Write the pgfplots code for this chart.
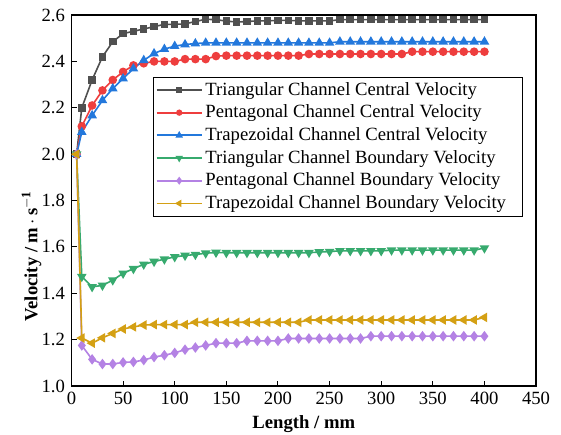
\documentclass[border=0pt]{standalone}
\usepackage{fontspec}
\setmainfont{Liberation Serif}
\usepackage{pgfplots}
\pgfplotsset{compat=1.18}

\definecolor{cgray}{RGB}{80,80,80}
\definecolor{cred}{RGB}{238,62,62}
\definecolor{cblue}{RGB}{35,120,220}
\definecolor{cgreen}{RGB}{55,170,110}
\definecolor{cpurple}{RGB}{180,130,228}
\definecolor{cgold}{RGB}{212,160,20}

\begin{document}
\begin{tikzpicture}
\fontsize{14}{16.8}\selectfont
% page = 561x434 px at 0.75pt per px
\useasboundingbox (-53.6pt,-36pt) rectangle (367.1pt,289.5pt);
\begin{axis}[
    scale only axis,
    width=348.4pt, height=278.2pt,
    xmin=0, xmax=450, ymin=1.0, ymax=2.6,
    xtick={0,50,...,450},
    ytick={1.0,1.2,...,2.6},
    yticklabel style={/pgf/number format/.cd,fixed,fixed zerofill,precision=1},
    /pgf/number format/assume math mode=true,
    tick align=inside,
    xtick pos=left, ytick pos=left,
    major tick length=4pt,
    axis line style={line width=1pt},
    tick style={line width=0.8pt, black},
    xlabel={\bfseries Length / mm},
    ylabel={\bfseries Velocity / m\,$\cdot$\,s$^{\mathbf{-1}}$},
    xlabel style={yshift=2pt},
    ylabel style={at={(axis description cs:0,0.35)}, anchor=center, yshift=30pt},
    legend style={at={(0.972,0.833)}, anchor=north east, draw=black,
        line width=0.6pt, font=\fontsize{14}{16.8}\selectfont,
        row sep=1.2pt, inner xsep=1.5pt, inner ysep=1.5pt},
    legend cell align=left,
    legend image code/.code={\draw[mark repeat=2,mark phase=2,#1,line width=1.3pt,every mark/.append style={scale=0.65}] plot coordinates {(0pt,0pt)(17pt,0pt)(34pt,0pt)};},
]
\addplot[color=cgray, line width=1.2pt, mark=square*, mark size=2.2pt] coordinates {
(5,2.0)(10,2.20)(20,2.32)(30,2.42)(40,2.485)(50,2.52)(60,2.53)(70,2.54)(80,2.55)(90,2.56)
(100,2.56)(110,2.562)(120,2.572)(130,2.582)(140,2.58)(150,2.574)(160,2.57)(170,2.572)(180,2.575)(190,2.575)
(200,2.577)(210,2.577)(220,2.575)(230,2.575)(240,2.575)(250,2.575)(260,2.58)(270,2.58)(280,2.58)(290,2.58)
(300,2.58)(310,2.58)(320,2.58)(330,2.58)(340,2.58)(350,2.58)(360,2.58)(370,2.58)(380,2.58)(390,2.58)(400,2.58)};
\addlegendentry{Triangular Channel Central Velocity}
\addplot[color=cred, line width=1.2pt, mark=*, mark size=2.6pt] coordinates {
(5,2.0)(10,2.12)(20,2.21)(30,2.275)(40,2.32)(50,2.355)(60,2.383)(70,2.392)(80,2.40)(90,2.40)
(100,2.40)(110,2.41)(120,2.41)(130,2.41)(140,2.423)(150,2.425)(160,2.425)(170,2.425)(180,2.425)(190,2.425)
(200,2.425)(210,2.425)(220,2.425)(230,2.432)(240,2.432)(250,2.432)(260,2.432)(270,2.432)(280,2.432)(290,2.432)
(300,2.432)(310,2.432)(320,2.432)(330,2.442)(340,2.442)(350,2.442)(360,2.442)(370,2.442)(380,2.442)(390,2.442)(400,2.442)};
\addlegendentry{Pentagonal Channel Central Velocity}
\addplot[color=cblue, line width=1.2pt, mark=triangle*, mark size=3pt] coordinates {
(5,2.0)(10,2.095)(20,2.167)(30,2.232)(40,2.283)(50,2.326)(60,2.369)(70,2.405)(80,2.434)(90,2.453)
(100,2.466)(110,2.473)(120,2.477)(130,2.48)(140,2.48)(150,2.48)(160,2.48)(170,2.48)(180,2.48)(190,2.48)
(200,2.48)(210,2.48)(220,2.48)(230,2.48)(240,2.48)(250,2.48)(260,2.485)(270,2.485)(280,2.485)(290,2.485)
(300,2.485)(310,2.485)(320,2.485)(330,2.485)(340,2.485)(350,2.485)(360,2.485)(370,2.485)(380,2.485)(390,2.485)(400,2.485)};
\addlegendentry{Trapezoidal Channel Central Velocity}
\addplot[color=cgreen, line width=1.2pt, mark=triangle*, mark size=3pt, mark options={rotate=180}] coordinates {
(5,2.0)(10,1.472)(20,1.428)(30,1.434)(40,1.457)(50,1.486)(60,1.506)(70,1.525)(80,1.537)(90,1.547)
(100,1.557)(110,1.563)(120,1.567)(130,1.573)(140,1.576)(150,1.575)(160,1.575)(170,1.575)(180,1.575)(190,1.575)
(200,1.575)(210,1.575)(220,1.575)(230,1.575)(240,1.578)(250,1.58)(260,1.583)(270,1.583)(280,1.583)(290,1.583)
(300,1.583)(310,1.586)(320,1.586)(330,1.586)(340,1.586)(350,1.586)(360,1.586)(370,1.586)(380,1.586)(390,1.586)(400,1.595)};
\addlegendentry{Triangular Channel Boundary Velocity}
\addplot[color=cpurple, line width=1.2pt, mark=diamond*, mark size=3pt] coordinates {
(5,2.0)(10,1.175)(20,1.115)(30,1.095)(40,1.095)(50,1.102)(60,1.104)(70,1.112)(80,1.125)(90,1.133)
(100,1.143)(110,1.157)(120,1.166)(130,1.175)(140,1.185)(150,1.185)(160,1.185)(170,1.195)(180,1.195)(190,1.195)
(200,1.195)(210,1.205)(220,1.205)(230,1.205)(240,1.205)(250,1.205)(260,1.205)(270,1.205)(280,1.205)(290,1.215)
(300,1.215)(310,1.215)(320,1.215)(330,1.215)(340,1.215)(350,1.215)(360,1.215)(370,1.215)(380,1.215)(390,1.215)(400,1.215)};
\addlegendentry{Pentagonal Channel Boundary Velocity}
\addplot[color=cgold, line width=1.2pt, mark=triangle*, mark size=3pt, mark options={rotate=90}] coordinates {
(5,2.0)(10,1.207)(20,1.185)(30,1.208)(40,1.227)(50,1.246)(60,1.255)(70,1.263)(80,1.265)(90,1.265)
(100,1.265)(110,1.265)(120,1.275)(130,1.275)(140,1.275)(150,1.275)(160,1.275)(170,1.275)(180,1.275)(190,1.275)
(200,1.275)(210,1.275)(220,1.275)(230,1.285)(240,1.285)(250,1.285)(260,1.285)(270,1.285)(280,1.285)(290,1.285)
(300,1.285)(310,1.285)(320,1.285)(330,1.285)(340,1.285)(350,1.285)(360,1.285)(370,1.285)(380,1.285)(390,1.285)(400,1.296)};
\addlegendentry{Trapezoidal Channel Boundary Velocity\kern 9pt\null}
\end{axis}
\end{tikzpicture}
\end{document}
